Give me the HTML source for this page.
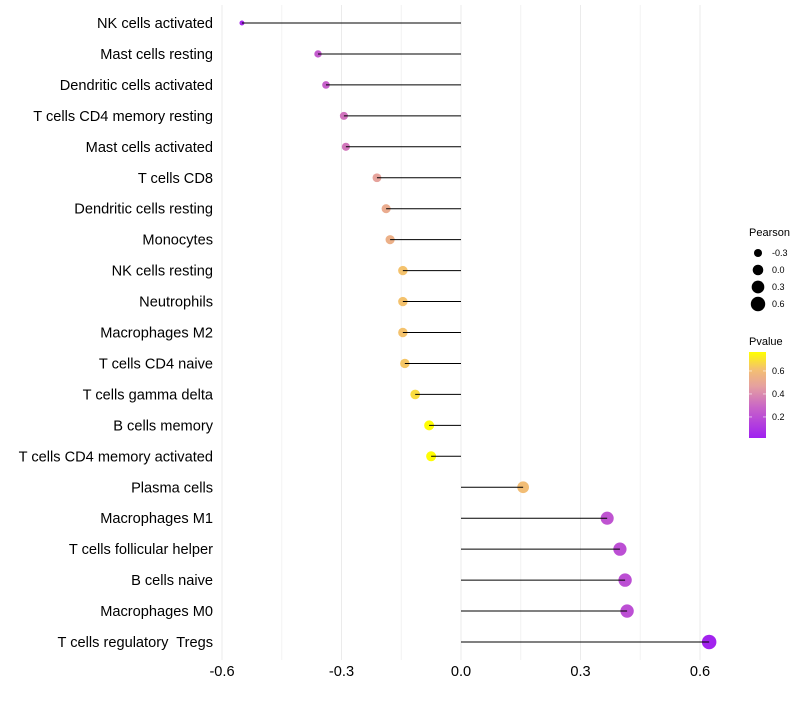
<!DOCTYPE html>
<html><head><meta charset="utf-8"><style>
body{margin:0;background:#fff;font-family:"Liberation Sans",sans-serif}
svg text{font-family:"Liberation Sans",sans-serif}
</style></head><body>
<svg id="chart" width="800" height="700" xmlns="http://www.w3.org/2000/svg">
<defs><linearGradient id="pg" x1="0" y1="1" x2="0" y2="0">
<stop offset="0" stop-color="#a020f0"/><stop offset="0.35" stop-color="#c863c8"/><stop offset="0.6" stop-color="#e5a0a0"/><stop offset="0.8" stop-color="#f4c070"/><stop offset="1" stop-color="#ffff00"/></linearGradient></defs>
<g id="grid"></g>
<g id="marks"></g>
<g id="ylabels"></g>
<g id="xlabels"></g>
<g>
<text x="749" y="236" font-size="11">Pearson</text>
<g id="sizeleg"></g>
</g>
<g>
<text x="749" y="345" font-size="11">Pvalue</text>
<rect x="749" y="352" width="17" height="86" fill="url(#pg)"/>
<g id="colleg"></g>
</g>
</svg>
<script>
const categories=["NK cells activated","Mast cells resting","Dendritic cells activated","T cells CD4 memory resting","Mast cells activated","T cells CD8","Dendritic cells resting","Monocytes","NK cells resting","Neutrophils","Macrophages M2","T cells CD4 naive","T cells gamma delta","B cells memory","T cells CD4 memory activated","Plasma cells","Macrophages M1","T cells follicular helper","B cells naive","Macrophages M0","T cells regulatory  Tregs"];
const pearson=[-0.55,-0.359,-0.339,-0.294,-0.289,-0.211,-0.188,-0.178,-0.146,-0.146,-0.146,-0.141,-0.115,-0.080,-0.075,0.156,0.367,0.399,0.412,0.417,0.623];
const pvalue=[0.05,0.25,0.27,0.33,0.34,0.48,0.52,0.54,0.62,0.62,0.62,0.63,0.68,0.76,0.76,0.6,0.22,0.2,0.2,0.2,0.03];
const xTicks=[-0.6,-0.3,0,0.3,0.6];
const xTickLabels=["-0.6","-0.3","0.0","0.3","0.6"];
const xMinor=[-0.45,-0.15,0.15,0.45];
const sizeBreaks=[-0.3,0,0.3,0.6];
const sizeLabels=["-0.3","0.0","0.3","0.6"];
const colBreaks=[0.2,0.4,0.6];
const colLabels=["0.2","0.4","0.6"];
const NS="http://www.w3.org/2000/svg";
const X=v=>461+v*398.3;
const Y=i=>23+i*30.95;
const R=v=>Math.sqrt(Math.max(1,28+40*v));
const PC=p=>352+(0.765-p)/(0.748)*86;
const stops=[[0.017,[160,32,240]],[0.28,[200,99,200]],[0.466,[229,160,160]],[0.616,[244,192,112]],[0.765,[255,255,0]]];
function col(p){if(p<=stops[0][0])return `rgb(${stops[0][1]})`;for(let i=1;i<stops.length;i++){if(p<=stops[i][0]){const a=stops[i-1],b=stops[i],t=(p-a[0])/(b[0]-a[0]);return 'rgb('+a[1].map((c,k)=>Math.round(c+(b[1][k]-c)*t)).join(',')+')';}}return 'rgb(255,255,0)';}
function mk(tag,at,parent){const e=document.createElementNS(NS,tag);for(const k in at)e.setAttribute(k,at[k]);parent.appendChild(e);return e;}
const grid=document.getElementById('grid'),marks=document.getElementById('marks'),yl=document.getElementById('ylabels'),xl=document.getElementById('xlabels');
xMinor.forEach(v=>{const l=mk('line',{x1:X(v),x2:X(v),y1:5,y2:660,stroke:'#f2f2f2','stroke-width':1},grid);

});
xTicks.forEach((v,i)=>{const l=mk('line',{x1:X(v),x2:X(v),y1:5,y2:660,stroke:'#ebebeb','stroke-width':1},grid);


const t=mk('text',{x:X(v),y:676,'font-size':14.6,'text-anchor':'middle',fill:'#000'},xl);t.textContent=xTickLabels[i];

});
categories.forEach((c,i)=>{const y=Y(i);
const g=mk('g',{},marks);


const dot=mk('circle',{cx:X(pearson[i]),cy:y,r:R(pearson[i]),fill:col(pvalue[i])},g);


const seg=mk('line',{x1:X(pearson[i]),x2:X(0),y1:y,y2:y,stroke:'#000','stroke-width':1},g);


const t=mk('text',{x:213,y:y+5,'font-size':14.6,'text-anchor':'end',fill:'#000','xml:space':'preserve'},yl);
t.style.whiteSpace='pre';t.textContent=c;

});
const sl=document.getElementById('sizeleg');
sizeBreaks.forEach((v,i)=>{const y=253+i*17;
const c=mk('circle',{cx:758,cy:y,r:R(v),fill:'#000'},sl);


const t=mk('text',{x:772,y:y+3,'font-size':9},sl);t.textContent=sizeLabels[i];

});
const cl=document.getElementById('colleg');
colBreaks.forEach((v,i)=>{const y=PC(v);
mk('line',{x1:749,x2:752,y1:y,y2:y,stroke:'#fff','stroke-width':0.6},cl);
mk('line',{x1:763,x2:766,y1:y,y2:y,stroke:'#fff','stroke-width':0.6},cl);
const t=mk('text',{x:772,y:y+3,'font-size':9},cl);t.textContent=colLabels[i];

});
</script>
</body></html>
